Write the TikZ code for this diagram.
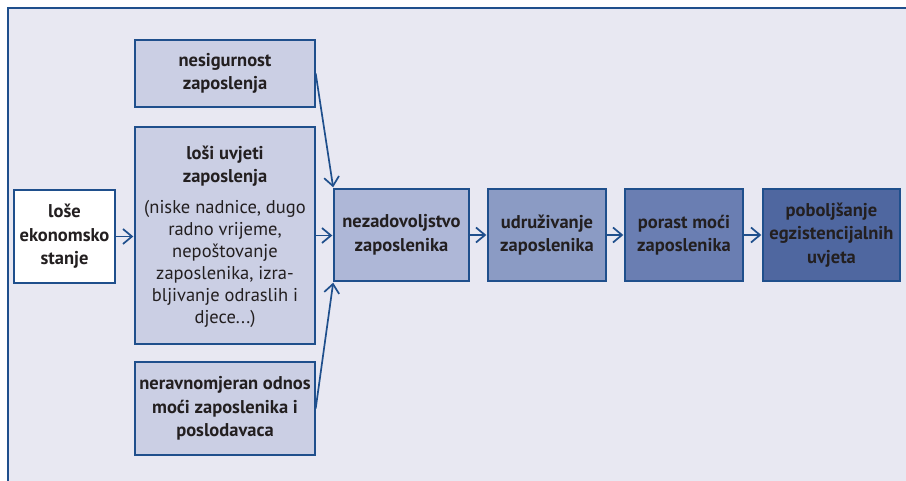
\documentclass[tikz,border=0pt]{standalone}
\usepackage{fontspec}
\setmainfont{PT Sans}
\usetikzlibrary{arrows.meta}
\definecolor{frameblue}{HTML}{1F4F8C}
\definecolor{panelbg}{HTML}{E8E8F2}
\definecolor{fillA}{HTML}{CBCFE4}
\definecolor{fillB}{HTML}{AEB7D7}
\definecolor{fillC}{HTML}{8B9BC4}
\definecolor{fillD}{HTML}{6A7EB2}
\definecolor{fillE}{HTML}{4F67A0}
\definecolor{txt}{HTML}{231F20}
\tikzset{
  box/.style={draw=frameblue, line width=1.4pt, text=txt, align=center,
    inner sep=0pt, font=\fontsize{18.5}{23.5}\selectfont\bfseries},
  flow/.style={draw=frameblue, line width=1.7pt,
    -{Straight Barb[length=9pt,width=15pt,line width=1.7pt]}, shorten >=1pt}
}
\begin{document}
\begin{tikzpicture}[x=1pt,y=-1pt]
\useasboundingbox (0,0) rectangle (906,481);
% panel background with its left and top rule
\fill[panelbg] (8,8) rectangle (906,481);
\draw[frameblue, line width=1.6pt] (8,481) -- (8,8) -- (906,8);

% boxes (centres and sizes in px)
\node[box, fill=white, minimum width=101, minimum height=93] (eko) at (64.5,236.5)
  {loše\\ekonomsko\\stanje};
\node[box, fill=fillA, minimum width=180, minimum height=67] (nes) at (225,73.5)
  {nesigurnost\\zaposlenja};
\node[box, fill=fillA, minimum width=180, minimum height=217] (los) at (225,235.5) {};
\node[text=txt, align=center, font=\fontsize{18.5}{22}\selectfont, anchor=north, inner sep=0pt] (losT) at (225,146)
  {\textbf{loši uvjeti}\\[1pt]\textbf{zaposlenja}\\[9pt](niske nadnice, dugo\\radno vrijeme,\\nepoštovanje\\zaposlenika, izra-\\bljivanje odraslih i\\djece...)};
\node[box, fill=fillA, minimum width=180, minimum height=93] (ner) at (225,408.5)
  {neravnomjeran odnos\\moći zaposlenika i\\poslodavaca};
\node[box, fill=fillB, minimum width=135, minimum height=92] (nez) at (401.5,235)
  {nezadovoljstvo\\zaposlenika};
\node[box, fill=fillC, minimum width=118, minimum height=92] (udr) at (547,235)
  {udruživanje\\zaposlenika};
\node[box, fill=fillD, minimum width=118, minimum height=92] (por) at (684,235)
  {porast moći\\zaposlenika};
\node[box, fill=fillE, minimum width=137, minimum height=92] (pob) at (831.5,235)
  {poboljšanje\\egzistencijalnih\\uvjeta};

% connectors
\draw[flow] (eko.east) -- (eko.east -| los.west);
\draw[flow] (los.east) -- (los.east -| nez.west);
\draw[flow] (nes.east) -- (nez.north west);
\draw[flow] (ner.east) -- (nez.south west);
\draw[flow] (nez) -- (udr);
\draw[flow] (udr) -- (por);
\draw[flow] (por) -- (pob);
\end{tikzpicture}
\end{document}
